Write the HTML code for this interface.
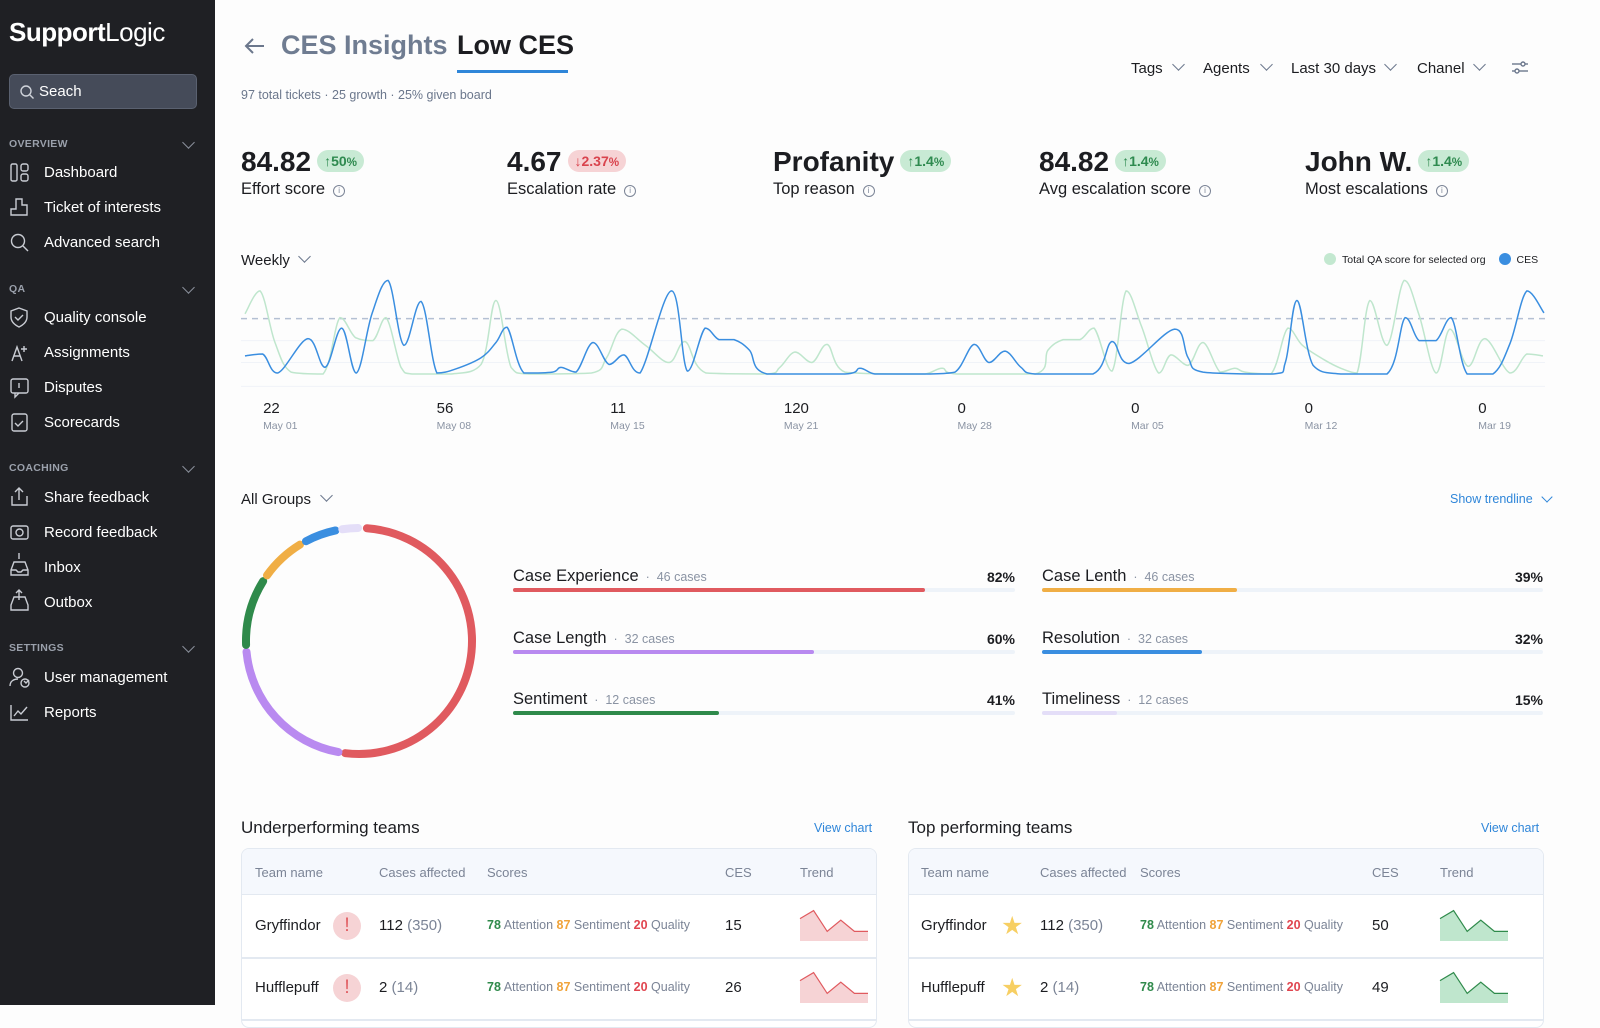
<!DOCTYPE html>
<html><head><meta charset="utf-8">
<style>
*{box-sizing:border-box;margin:0;padding:0}
body{width:1600px;height:1005px;overflow:hidden;background:#fdfdfd;font-family:"Liberation Sans",sans-serif;color:#1c1d21;position:relative}
.abs{position:absolute;white-space:nowrap}
#sidebar{position:absolute;left:0;top:0;width:215px;height:1005px;background:#1f2024}
.nav{position:absolute;left:44px;color:#fff;font-size:15px}
.sec{position:absolute;left:9px;color:#9aa0ab;font-size:10.5px;font-weight:bold;letter-spacing:.3px}
.chev{position:absolute;width:9px;height:9px;border-right:1.5px solid #8a909c;border-bottom:1.5px solid #8a909c;transform:rotate(45deg)}
.kv{font-size:28px;font-weight:bold;color:#1c1d21}
.badge{display:inline-block;font-size:14px;font-weight:bold;padding:3px 7px;border-radius:11px;vertical-align:5px;margin-left:6px}
.up{background:#c8ead4;color:#2e8a4f}.dn{background:#f6d3d5;color:#d9434d}
.kl{font-size:16.5px;color:#1c1d21;margin-top:2px}
.info{display:inline-block;width:12px;height:12px;border:1.3px solid #7b8496;border-radius:50%;margin-left:8px;font-size:8px;text-align:center;line-height:10px;color:#7b8496;vertical-align:1px}
.filt{font-size:15px;color:#1c1d21}
.card{position:absolute;border:1.5px solid #e3e9f1;border-radius:8px;background:#fff;overflow:hidden}
.th{position:absolute;top:16px;font-size:13px;color:#7b8496}
.td{position:absolute;font-size:15px;color:#1c1d21}
.sc{font-size:12.5px;color:#7b8496}
</style></head><body>
<div id="sidebar">
  <div class="abs" style="left:9px;top:17px;font-size:26px;color:#fff;letter-spacing:-.5px"><b>Support</b>Logic</div>
  <div class="abs" style="left:9px;top:74px;width:188px;height:35px;border:1.5px solid #5a6170;border-radius:5px;background:#454b59">
    <svg width="16" height="16" style="position:absolute;left:9px;top:9px"><circle cx="7" cy="7" r="5" fill="none" stroke="#cfd3da" stroke-width="1.4"/><line x1="11" y1="11" x2="14.5" y2="14.5" stroke="#cfd3da" stroke-width="1.4"/></svg>
    <span style="position:absolute;left:29px;top:8px;color:#fff;font-size:15px">Seach</span></div>
  <div class="sec" style="top:138px">OVERVIEW</div><div class="chev" style="left:184px;top:138px"></div>
  <div class="nav" style="top:164px">Dashboard</div>
  <div class="nav" style="top:199px">Ticket of interests</div>
  <div class="nav" style="top:234px">Advanced search</div>
  <div class="sec" style="top:283px">QA</div><div class="chev" style="left:184px;top:283px"></div>
  <div class="nav" style="top:309px">Quality console</div>
  <div class="nav" style="top:344px">Assignments</div>
  <div class="nav" style="top:379px">Disputes</div>
  <div class="nav" style="top:414px">Scorecards</div>
  <div class="sec" style="top:462px">COACHING</div><div class="chev" style="left:184px;top:462px"></div>
  <div class="nav" style="top:489px">Share feedback</div>
  <div class="nav" style="top:524px">Record feedback</div>
  <div class="nav" style="top:559px">Inbox</div>
  <div class="nav" style="top:594px">Outbox</div>
  <div class="sec" style="top:642px">SETTINGS</div><div class="chev" style="left:184px;top:642px"></div>
  <div class="nav" style="top:669px">User management</div>
  <div class="nav" style="top:704px">Reports</div>
  <svg width="215" height="760" style="position:absolute;left:0;top:0" fill="none" stroke="#c9ccd3" stroke-width="1.4">
    <rect x="11" y="164" width="6" height="17" rx="1.5"/><rect x="21" y="164" width="7" height="7" rx="2"/><rect x="21" y="174" width="7" height="7" rx="2"/>
    <path d="M11 215v-6h5v-10h6v6h5v10z"/>
    <circle cx="18" cy="241" r="6.5"/><line x1="23" y1="246" x2="28" y2="251"/>
    <path d="M19 308l8 3v6c0 5-4 8-8 10-4-2-8-5-8-10v-6z"/><path d="M15 317l3 3 5-5"/>
    <path d="M12 361l5-14 5 14M14 356h6M24 346v6M21 349h6"/>
    <rect x="11" y="379" width="17" height="14" rx="2"/><path d="M15 393v4l4-4M19 383v5"/>
    <rect x="12" y="414" width="15" height="17" rx="2"/><path d="M15 423l3 3 5-5"/>
    <path d="M12 496v9h15v-9M19 500v-12M15 492l4-4 4 4"/>
    <rect x="11" y="526" width="17" height="13" rx="2"/><circle cx="19.5" cy="532.5" r="3.5"/>
    <path d="M11 570l3-8h11l3 8v5H11zM11 570h5l2 2h3l2-2h5M19 559v-6"/>
    <path d="M11 605l3-8h11l3 8v5H11zM19 600v-10M16 593l3-3 3 3"/>
    <circle cx="18" cy="673" r="4.5"/><path d="M10 686c0-5 4-7 8-7M24 681l2 2 3-3"/><circle cx="25" cy="683" r="4"/>
    <path d="M11 705v15h17M14 716l4-5 3 3 6-7"/>
  </svg>
</div>

<svg class="abs" style="left:243px;top:37px" width="24" height="18"><path d="M21 9H3M10 2L3 9l7 7" fill="none" stroke="#6b778c" stroke-width="2"/></svg>
<div class="abs" style="left:281px;top:30px;font-size:27px;font-weight:bold;color:#6f7c91">CES Insights</div>
<div class="abs" style="left:457px;top:30px;font-size:27px;font-weight:bold;color:#1c1d21">Low CES</div>
<div class="abs" style="left:457px;top:70px;width:111px;height:3px;background:#2f86d9"></div>
<div class="abs" style="left:241px;top:88px;font-size:12.5px;color:#6b778c">97 total tickets · 25 growth · 25% given board</div>

<div class="abs filt" style="left:1131px;top:60px">Tags</div><div class="chev" style="left:1174px;top:60px;border-color:#6b778c"></div>
<div class="abs filt" style="left:1203px;top:60px">Agents</div><div class="chev" style="left:1262px;top:60px;border-color:#6b778c"></div>
<div class="abs filt" style="left:1291px;top:60px">Last 30 days</div><div class="chev" style="left:1386px;top:60px;border-color:#6b778c"></div>
<div class="abs filt" style="left:1417px;top:60px">Chanel</div><div class="chev" style="left:1475px;top:60px;border-color:#6b778c"></div>
<svg class="abs" style="left:1511px;top:60px" width="20" height="16"><g stroke="#6b778c" stroke-width="1.4" fill="#fdfdfd"><line x1="1" y1="4" x2="17" y2="4"/><line x1="1" y1="11" x2="17" y2="11"/><circle cx="12" cy="4" r="2"/><circle cx="6" cy="11" r="2"/></g></svg>

<div class="abs" style="left:241px;top:146px"><span class="kv">84.82</span><span class="badge up">↑50<small>%</small></span><div class="kl">Effort score<span class="info">i</span></div></div>
<div class="abs" style="left:507px;top:146px"><span class="kv">4.67</span><span class="badge dn">↓2.37<small>%</small></span><div class="kl">Escalation rate<span class="info">i</span></div></div>
<div class="abs" style="left:773px;top:146px"><span class="kv">Profanity</span><span class="badge up">↑1.4<small>%</small></span><div class="kl">Top reason<span class="info">i</span></div></div>
<div class="abs" style="left:1039px;top:146px"><span class="kv">84.82</span><span class="badge up">↑1.4<small>%</small></span><div class="kl">Avg escalation score<span class="info">i</span></div></div>
<div class="abs" style="left:1305px;top:146px"><span class="kv">John W.</span><span class="badge up">↑1.4<small>%</small></span><div class="kl">Most escalations<span class="info">i</span></div></div>

<div class="abs filt" style="left:241px;top:252px">Weekly</div><div class="chev" style="left:300px;top:252px;border-color:#6b778c"></div>
<div class="abs" style="left:1324px;top:253px;font-size:10.5px;color:#1c1d21"><span style="display:inline-block;width:12px;height:12px;border-radius:50%;background:#c3e8d0;vertical-align:-2px;margin-right:6px"></span>Total QA score for selected org <span style="display:inline-block;width:12px;height:12px;border-radius:50%;background:#3a8ee0;vertical-align:-2px;margin:0 6px 0 10px"></span>CES</div>
<svg id="linechart" class="abs" style="left:0;top:0" width="1600" height="440"></svg>

<div class="abs filt" style="left:241px;top:491px">All Groups</div><div class="chev" style="left:322px;top:491px;border-color:#6b778c"></div>
<div class="abs" style="left:1450px;top:492px;font-size:12.5px;color:#2f86d9">Show trendline</div><div class="chev" style="left:1543px;top:493px;border-color:#2f86d9;width:8px;height:8px"></div>
<svg id="donut" class="abs" style="left:230px;top:510px" width="260" height="260"></svg>
<div id="bars"></div>

<div class="abs" style="left:241px;top:818px;font-size:17px">Underperforming teams</div>
<div class="abs" style="left:814px;top:821px;font-size:12.5px;color:#2f86d9">View chart</div>
<div class="abs" style="left:908px;top:818px;font-size:17px">Top performing teams</div>
<div class="abs" style="left:1481px;top:821px;font-size:12.5px;color:#2f86d9">View chart</div>
<div id="tables"></div>

<script>
const cesDays=[0.16,0.87,1.48,2.70,3.39,4.06,4.65,5.28,5.93,6.57,7.26,7.90,8.63,9.68,10.28,10.73,11.41,12.56,12.90,13.51,14.19,14.84,15.44,16.09,17.36,18.0,18.71,19.27,19.88,20.5,21.21,24.35,24.96,25.56,26.57,27.68,28.79,29.56,30.16,30.81,31.45,32.02,34.35,35.12,35.81,37.65,38.19,38.79,41.61,42.12,42.58,43.23,44.34,46.21,46.94,47.5,48.19,48.8,49.44,50.48,51.17,51.85,52.54];
const cesValues=[19,21,1,37,7,48,1,63,98,30,76,1,5,17,33,49,1,2,7,2,33,10,20,1,87,3,48,36,36,25,0,0,6,0,0,0,2,31,12,24,7,0,0,34,11,47,17,2,0,13,77,9,0,0,59,35,35,59,0,0,32,87,64];
const qaDays=[0.16,0.77,1.37,2.02,3.31,3.99,4.62,5.32,5.85,6.45,6.9,8.47,9.68,10.28,10.89,11.61,14.13,14.74,15.36,16.31,17.26,17.9,18.75,21.21,21.73,22.34,23.02,23.63,24.35,26.57,27.58,28.27,28.87,32.02,32.54,33.15,33.83,34.4,35.12,35.69,36.31,37.0,37.5,38.19,38.79,39.48,40.08,40.48,41.53,42.21,42.8,43.67,44.35,45.0,45.52,46.21,46.9,47.5,48.19,48.75,49.48,50.16,51.17,51.85,52.5];
const qaValues=[63,87,33,2,0,59,38,35,59,7,0,0,10,77,7,0,1,17,47,30,12,34,1,0,7,23,12,31,2,0,0,6,0,0,25,36,36,48,3,87,50,1,20,9,33,2,6,2,0,48,30,15,6,1,77,30,98,62,1,47,8,37,1,21,19];
const tickValues=["22","56","11","120","0","0","0","0"];
const tickDates=["May 01","May 08","May 15","May 21","May 28","Mar 05","Mar 12","Mar 19"];
const targetValue=58;
const gridValues=[35,12,-13];

const NS="http://www.w3.org/2000/svg";
function mk(tag,attrs,parent){const e=document.createElementNS(NS,tag);for(const k in attrs)e.setAttribute(k,attrs[k]);parent.appendChild(e);return e;}
const xScale=d=>241+d*24.8;
const yScale=v=>374-v*0.955;
const lc=document.getElementById('linechart');
gridValues.forEach(g=>{const l=mk('line',{x1:241,x2:1545,y1:yScale(g),y2:yScale(g),stroke:'#f0f3f8','stroke-width':1},lc);

});
const tl=mk('line',{x1:241,x2:1545,y1:yScale(targetValue),y2:yScale(targetValue),stroke:'#b4c0d3','stroke-width':1.5,'stroke-dasharray':'6 5'},lc);


function smoothPath(xs,ys){let d='M'+xs[0]+' '+ys[0];for(let i=0;i<xs.length-1;i++){const x0=xs[Math.max(i-1,0)],y0=ys[Math.max(i-1,0)],x1=xs[i],y1=ys[i],x2=xs[i+1],y2=ys[i+1],x3=xs[Math.min(i+2,xs.length-1)],y3=ys[Math.min(i+2,xs.length-1)];
const t=0.18;let c1y=y1+(y2-y0)*t,c2y=y2-(y3-y1)*t;const lo=Math.min(y1,y2),hi=Math.max(y1,y2);c1y=Math.max(lo,Math.min(hi,c1y));c2y=Math.max(lo,Math.min(hi,c2y));
d+=' C'+(x1+(x2-x0)*t)+' '+c1y+' '+(x2-(x3-x1)*t)+' '+c2y+' '+x2+' '+y2;}return d;}
const qa=mk('path',{d:smoothPath(qaDays.map(xScale),qaValues.map(yScale)),fill:'none',stroke:'#bfe6cd','stroke-width':1.5},lc);


const ces=mk('path',{d:smoothPath(cesDays.map(xScale),cesValues.map(yScale)),fill:'none',stroke:'#3a8ee0','stroke-width':1.5},lc);


tickValues.forEach((v,i)=>{const x=xScale(0.89+7*i);
const t1=mk('text',{x:x,y:413,'font-size':15,fill:'#1c1d21','font-family':'Liberation Sans'},lc);t1.textContent=v;


const t2=mk('text',{x:x,y:429,'font-size':10.5,fill:'#8a93a3','font-family':'Liberation Sans'},lc);t2.textContent=tickDates[i];

});

const donutValues=[183,74,34,23,16,8];
const donutColors=['#e05a5f','#b98af0','#2f8a4b','#f0ae45','#3a8ee0','#e4def8'];
const donutNames=['case-experience','case-length','sentiment','case-lenth','resolution','timeliness'];
const dn=document.getElementById('donut');const cx=129,cy=131,r=113;let ang=4;
function pt(a){const rad=(a-90)*Math.PI/180;return [cx+r*Math.cos(rad),cy+r*Math.sin(rad)];}
donutValues.forEach((v,i)=>{const a0=ang,a1=ang+v;const p0=pt(a0),p1=pt(a1);
const s=mk('path',{d:`M${p0[0]} ${p0[1]} A${r} ${r} 0 ${v>180?1:0} 1 ${p1[0]} ${p1[1]}`,fill:'none',stroke:donutColors[i],'stroke-width':8,'stroke-linecap':'round'},dn);


ang=a1+3.5;});

const barLabels=['Case Experience','Case Length','Sentiment','Case Lenth','Resolution','Timeliness'];
const barCases=[46,32,12,46,32,12];
const barPercents=[82,60,41,39,32,15];
const bc=document.getElementById('bars');
barLabels.forEach((lab,i)=>{const col=i<3?0:1,row=i%3;const left=col?1042:513,w=col?501:502,top=567+row*61.5;
const g=document.createElement('div');g.className='abs';g.style.cssText=`left:${left}px;top:${top}px;width:${w}px;height:30px`;


g.innerHTML=`<span style="font-size:16.5px">${lab}</span><span style="font-size:12.5px;color:#8a93a3"> &nbsp;·&nbsp; ${barCases[i]} cases</span><span style="position:absolute;right:0;top:2px;font-size:14px;font-weight:bold">${barPercents[i]}%</span>
<div style="position:absolute;left:0;top:21px;width:${w}px;height:4px;background:#eef3f9;border-radius:2px"></div>
<div style="position:absolute;left:0;top:21px;width:${w*barPercents[i]/100}px;height:4px;background:${donutColors[i]};border-radius:2px"></div>`;
bc.appendChild(g);});

const teamNames=['Gryffindor','Hufflepuff'];
const teamCases=[112,2];const teamTotals=[350,14];
const underCES=[15,26];const topCES=[50,49];
const scoreAttention=[78,78],scoreSentiment=[87,87],scoreQuality=[20,20];
const trendValues=[70,95,30,65,30,30];
const tb=document.getElementById('tables');
function table(left,ces,kind){const c=document.createElement('div');c.className='card';c.style.cssText=`left:${left}px;top:848px;width:636px;height:180px`;


const cols=kind==='under'?[13,137,245,483,558]:[12,131,231,463,531];
let h=`<div style="position:absolute;left:0;top:0;width:100%;height:46px;background:#f5f8fd;border-bottom:1.5px solid #e3e9f1"></div>
<div class="th" style="left:${cols[0]}px">Team name</div><div class="th" style="left:${cols[1]}px">Cases affected</div><div class="th" style="left:${cols[2]}px">Scores</div><div class="th" style="left:${cols[3]}px">CES</div><div class="th" style="left:${cols[4]}px">Trend</div>`;
teamNames.forEach((n,i)=>{const y=46+i*62;const cy=y+31;
h+=`<div style="position:absolute;left:0;top:${y+62}px;width:100%;height:1.5px;background:#e3e9f1"></div>
<div class="td" style="left:${cols[0]}px;top:${cy-9}px">${n}</div>`;
h+=kind==='under'?`<div style="position:absolute;left:91px;top:${cy-14}px;width:28px;height:28px;border-radius:50%;background:#f6d3d5;color:#e05a5f;text-align:center;font-size:19px;line-height:28px">!</div>`
:`<div style="position:absolute;left:92px;top:${cy-15}px;font-size:25px;color:#f7cf63">★</div>`;
h+=`<div class="td" style="left:${cols[1]}px;top:${cy-9}px">${teamCases[i]} <span style="color:#7b8496">(${teamTotals[i]})</span></div>
<div class="td" style="left:${cols[2]}px;top:${cy-8}px;font-size:12.5px"><b style="color:#2f8a4b">${scoreAttention[i]}</b><span class="sc"> Attention </span><b style="color:#f0a33a">${scoreSentiment[i]}</b><span class="sc"> Sentiment </span><b style="color:#e0454f">${scoreQuality[i]}</b><span class="sc"> Quality</span></div>
<div class="td" style="left:${cols[3]}px;top:${cy-9}px">${ces[i]}</div>`;
const sx=cols[4],sw=68,sh=32,st=cy-17;
const pts=trendValues.map((v,k)=>[sx+k*sw/(trendValues.length-1),st+sh-v/100*sh]);
const line=pts.map(p=>p.join(',')).join(' ');
const fill=kind==='under'?'#f6d3d5':'#bfe6cd',stroke=kind==='under'?'#e05a5f':'#2f8a4b';
h+=`<svg style="position:absolute;left:0;top:0" width="636" height="200"><polygon points="${sx},${st+sh} ${line} ${sx+sw},${st+sh}" fill="${fill}"/><polyline points="${line}" fill="none" stroke="${stroke}" stroke-width="1.2"/></svg>`;});
c.innerHTML=h;tb.appendChild(c);}
table(241,underCES,'under');
table(908,topCES,'top');
</script>
</body></html>
